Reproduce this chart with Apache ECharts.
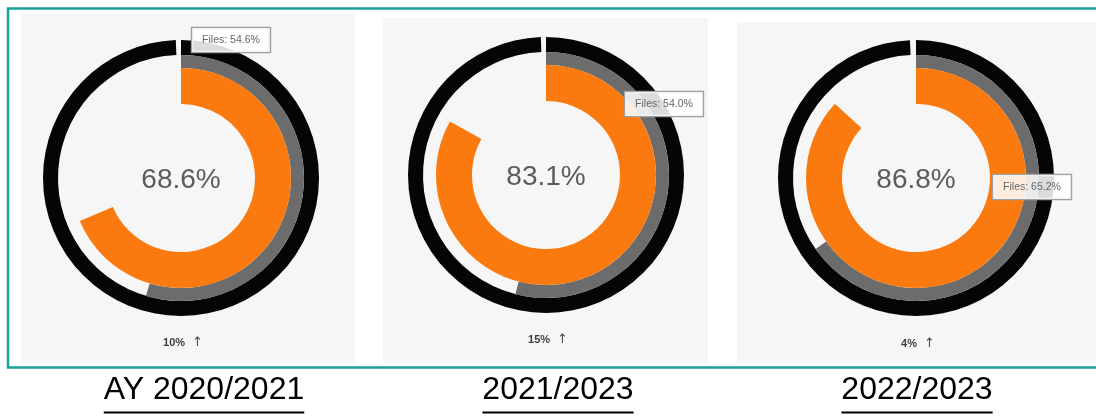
<!DOCTYPE html>
<html>
<head>
<meta charset="utf-8">
<script src="https://cdn.jsdelivr.net/npm/echarts@6/dist/echarts.min.js"></script>
<style>
  html, body { margin: 0; padding: 0; background: #ffffff; }
  #chart { width: 1096px; height: 419px; }
</style>
</head>
<body>
<div id="chart"></div>
<script>
// Academic years shown, one gauge each
const periods = ['AY 2020/2021', '2021/2023', '2022/2023'];
// Inner (orange) ring: overall rate, %
const overallRate = [68.6, 83.1, 86.8];
// Middle (grey) ring: files rate, %
const filesRate = [54.6, 54.0, 65.2];
// Outer (black) ring, %
const outerRing = [99.4, 99.4, 99.3];
// Change versus previous year, %
const changePct = [10, 15, 4];

// Geometry of each panel
const panels = [
  { bg: [21, 14, 334, 349], c: [181, 178], tip: [231, 40], chg: 343 },
  { bg: [383, 18, 325, 345], c: [546, 175], tip: [664, 104], chg: 340 },
  { bg: [737, 22, 370, 341], c: [916, 178], tip: [1032, 187], chg: 344 }
];
const titleCenters = [204, 558, 917];
const rings = { orange: [74, 110], grey: [110, 123], black: [123, 138] };
const colors = { orange: '#fb7a0f', grey: '#6c6c6c', black: '#050505' };

const chart = echarts.init(document.getElementById('chart'), null, { renderer: 'canvas' });

function ring(idx, radius, color, value, withLabel) {
  return {
    type: 'pie',
    silent: true,
    animation: false,
    center: panels[idx].c,
    radius: radius,
    startAngle: 90,
    clockwise: true,
    avoidLabelOverlap: false,
    labelLine: { show: false },
    itemStyle: { borderWidth: 0 },
    emphasis: { disabled: true },
    label: { show: false },
    data: [
      {
        value: value,
        itemStyle: { color: color },
        label: withLabel ? {
          show: true,
          position: 'center',
          formatter: value.toFixed(1) + '%',
          fontFamily: 'Liberation Sans, Arial, sans-serif',
          fontSize: 28,
          color: '#5c5c5c',
          offset: [0, 2]
        } : { show: false }
      },
      { value: 100 - value, itemStyle: { color: 'rgba(0,0,0,0)' }, label: { show: false } }
    ]
  };
}

const series = [];
periods.forEach((p, i) => {
  series.push(ring(i, rings.black, colors.black, outerRing[i], false));
  series.push(ring(i, rings.grey, colors.grey, filesRate[i], false));
  series.push(ring(i, rings.orange, colors.orange, overallRate[i], true));
});

// measure title width for the underline
const ctx = document.createElement('canvas').getContext('2d');
const titleFont = '32px "Liberation Sans", Arial, sans-serif';
ctx.font = titleFont;

const graphics = [];
// panel backgrounds
panels.forEach((pn) => {
  graphics.push({
    type: 'rect', z: -10, silent: true,
    shape: { x: pn.bg[0], y: pn.bg[1], width: pn.bg[2], height: pn.bg[3] },
    style: { fill: '#f6f6f6' }
  });
});
// teal frame
graphics.push({
  type: 'rect', z: -5, silent: true,
  shape: { x: 8, y: 8.5, width: 1120, height: 359 },
  style: { fill: null, stroke: '#17a39a', lineWidth: 2.5 }
});
// file tooltips, change labels, titles
periods.forEach((p, i) => {
  const pn = panels[i];
  graphics.push({
    type: 'text', z: 100, silent: true,
    style: {
      text: 'Files: ' + filesRate[i].toFixed(1) + '%',
      x: pn.tip[0], y: pn.tip[1],
      textAlign: 'center', textVerticalAlign: 'middle',
      font: '10.5px "Liberation Sans", Arial, sans-serif',
      fill: '#666666',
      backgroundColor: 'rgba(255,255,255,0.86)',
      borderColor: '#a0a0a0', borderWidth: 1.3,
      padding: [7, 10, 6, 10]
    }
  });
  graphics.push({
    type: 'text', z: 100, silent: true,
    style: {
      text: '{n|' + changePct[i] + '%}{a|\u2191}',
      x: pn.c[0] + 2, y: pn.chg,
      textAlign: 'center', textVerticalAlign: 'middle',
      rich: {
        n: { font: 'bold 11px "Liberation Sans", Arial, sans-serif', fill: '#3e3e3e', padding: [0, 7, 0, 0] },
        a: { font: '13px "DejaVu Sans", sans-serif', fill: '#4a4a4a' }
      }
    }
  });
  const w = ctx.measureText(p).width;
  graphics.push({
    type: 'text', z: 100, silent: true,
    style: {
      text: p, x: titleCenters[i], y: 406,
      textAlign: 'center', textVerticalAlign: 'bottom',
      font: titleFont, fill: '#000000'
    }
  });
  graphics.push({
    type: 'line', z: 100, silent: true,
    shape: { x1: titleCenters[i] - w / 2, y1: 412.5, x2: titleCenters[i] + w / 2, y2: 412.5 },
    style: { stroke: '#000000', lineWidth: 2 }
  });
});

chart.setOption({
  animation: false,
  backgroundColor: '#ffffff',
  series: series,
  graphic: graphics
});
</script>
</body>
</html>
